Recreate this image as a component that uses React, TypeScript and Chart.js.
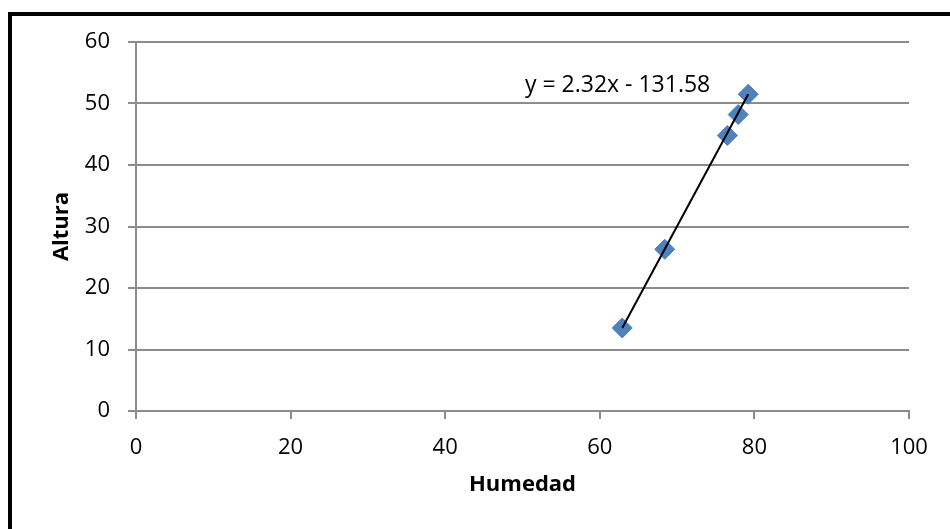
import React, { useEffect, useRef } from "react";
import { Chart, registerables } from "chart.js";

Chart.register(...registerables);

const humedad = [62.9, 68.4, 76.5, 77.9, 79.2];
const altura = [13.5, 26.3, 44.8, 48.2, 51.5];
const trendX = [62.9, 79.2];
const trendY = [13.5, 51.5];
const equationText = "y = 2.32x - 131.58";
const equationPos = { x: 62.3, y: 53 };
const xTitle = "Humedad";
const yTitle = "Altura";

const FONT = "'Open Sans', 'Liberation Sans', sans-serif";
const GRID = "#8c8c8c";

const overlay = {
  id: "overlay",
  afterDraw(chart: any) {
    const { ctx, chartArea, scales } = chart;
    ctx.save();
    ctx.fillStyle = "#000";
    ctx.font = `23px ${FONT}`;
    ctx.textAlign = "center";
    ctx.textBaseline = "middle";
    ctx.fillText(
      equationText,
      scales.x.getPixelForValue(equationPos.x),
      scales.y.getPixelForValue(equationPos.y)
    );
    ctx.font = `bold 22px ${FONT}`;
    ctx.fillText(xTitle, (chartArea.left + chartArea.right) / 2, chartArea.bottom + 74);
    ctx.translate(62, (chartArea.top + chartArea.bottom) / 2);
    ctx.rotate(-Math.PI / 2);
    ctx.fillText(yTitle, 0, 0);
    ctx.restore();
    ctx.save();
    ctx.fillStyle = "#000";
    ctx.fillRect(8, 12, chart.width - 8, 4);
    ctx.fillRect(8, 12, 4, chart.height - 12);
    ctx.restore();
  },
};

export default function App() {
  const ref = useRef<HTMLCanvasElement>(null);
  useEffect(() => {
    if (!ref.current) return;
    const chart = new Chart(ref.current, {
      type: "scatter",
      data: {
        datasets: [
          {
            type: "line",
            data: trendX.map((x, i) => ({ x, y: trendY[i] })),
            borderColor: "#000",
            borderWidth: 2,
            pointRadius: 0,
            showLine: true,
            fill: false,
            order: 0,
          },
          {
            data: humedad.map((x, i) => ({ x, y: altura[i] })),
            pointStyle: "rectRot",
            pointRadius: 10,
            backgroundColor: "#4F81BD",
            borderColor: "#4A7EBB",
            borderWidth: 1,
            order: 1,
          },
        ],
      },
      options: {
        responsive: false,
        animation: false,
        layout: { padding: { top: 42, right: 41, left: 0, bottom: 0 } },
        plugins: { legend: { display: false }, tooltip: { enabled: false } },
        scales: {
          x: {
            type: "linear",
            min: 0,
            max: 100,
            ticks: { stepSize: 20, color: "#000", font: { family: FONT, size: 22 }, padding: 16 },
            grid: { drawOnChartArea: false, drawTicks: true, tickLength: 8, color: GRID, lineWidth: 2 },
            border: { color: GRID, width: 2 },
            afterFit(scale: any) {
              scale.height = 118;
            },
          },
          y: {
            type: "linear",
            min: 0,
            max: 60,
            ticks: { stepSize: 10, color: "#000", font: { family: FONT, size: 22 }, padding: 18 },
            grid: { color: GRID, lineWidth: 2, tickLength: 8 },
            border: { color: GRID, width: 2 },
            afterFit(scale: any) {
              scale.width = 136;
            },
          },
        },
      },
      plugins: [overlay],
    });
    return () => chart.destroy();
  }, []);
  return (
    <canvas
      ref={ref}
      width={950}
      height={529}
      style={{ position: "fixed", left: 0, top: 0, width: 950, height: 529, background: "#fff" }}
    />
  );
}
